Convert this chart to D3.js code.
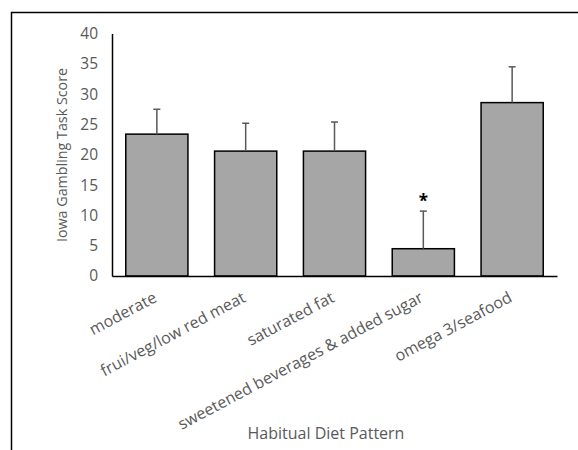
<!DOCTYPE html>
<html>
<head>
<meta charset="utf-8">
<script src="https://cdn.jsdelivr.net/npm/d3@7"></script>
<style>
  html, body { margin: 0; padding: 0; background: #fff; }
  svg { display: block; }
  text { font-family: "Open Sans", Lato, "DejaVu Sans", sans-serif; }
</style>
</head>
<body>
<svg id="chart" width="578" height="450"></svg>
<script>
// Diet pattern categories and mean Iowa Gambling Task scores with error (upper SE)
const categories = ["moderate", "frui/veg/low red meat", "saturated fat", "sweetened beverages & added sugar", "omega 3/seafood"];
const means = [23.4, 20.6, 20.6, 4.5, 28.6];
const errors = [4.1, 4.6, 4.8, 6.2, 5.9];
const significant = [false, false, false, true, false];
const yTicks = [0, 5, 10, 15, 20, 25, 30, 35, 40];

const svg = d3.select("#chart");
const gray = "#595959";

// Outer frame (top and left edges visible)
svg.append("rect")
  .attr("x", 11.5).attr("y", 12.5)
  .attr("width", 620).attr("height", 500)
  .attr("fill", "none").attr("stroke", "#000").attr("stroke-width", 1.5);

const x = d3.scaleBand().domain(categories).range([112, 557]).paddingInner(0.3).paddingOuter(0.155);
const y = d3.scaleLinear().domain([0, 40]).range([276, 33.5]);

// Y axis: line + labels, no tick marks
const yAxis = d3.axisLeft(y).tickValues(yTicks).tickSize(0).tickPadding(14);
const gy = svg.append("g").attr("transform", "translate(112,0)").call(yAxis);
gy.select(".domain").attr("stroke", "#000").attr("stroke-width", 1.5);
gy.selectAll("text").attr("fill", gray).attr("font-size", 15.5);

// Bars
svg.append("g").selectAll("rect").data(categories).join("rect")
  .attr("x", d => x(d))
  .attr("y", (d, i) => y(means[i]))
  .attr("width", x.bandwidth())
  .attr("height", (d, i) => y(0) - y(means[i]))
  .attr("fill", "#a6a6a6").attr("stroke", "#000").attr("stroke-width", 1.5);

// Error bars (upper only)
const eb = svg.append("g").attr("stroke", gray).attr("stroke-width", 1.5);
categories.forEach((c, i) => {
  const cx = x(c) + x.bandwidth() / 2;
  eb.append("line").attr("x1", cx).attr("x2", cx).attr("y1", y(means[i])).attr("y2", y(means[i] + errors[i]));
  eb.append("line").attr("x1", cx - 3.5).attr("x2", cx + 3.5).attr("y1", y(means[i] + errors[i])).attr("y2", y(means[i] + errors[i]));
});

// Significance markers
categories.forEach((c, i) => {
  if (!significant[i]) return;
  svg.append("text")
    .attr("x", x(c) + x.bandwidth() / 2)
    .attr("y", y(means[i] + errors[i]) - 4)
    .attr("text-anchor", "middle")
    .attr("font-size", 17).attr("font-weight", "bold").attr("fill", "#000")
    .text("*");
});

// X axis baseline
const xAxis = d3.axisBottom(x).tickSize(0).tickFormat("");
const gx = svg.append("g").attr("transform", "translate(0,276)").call(xAxis);
gx.select(".domain").attr("stroke", "#000").attr("stroke-width", 1.5);

// Rotated category labels
svg.append("g").selectAll("text").data(categories).join("text")
  .attr("transform", d => `translate(${x(d) + x.bandwidth() / 2 + 1},${301}) rotate(-28)`)
  .attr("text-anchor", "end")
  .attr("fill", gray).attr("font-size", 16)
  .text(d => d);

// Axis titles
svg.append("text")
  .attr("transform", "translate(67,155) rotate(-90)")
  .attr("text-anchor", "middle")
  .attr("fill", gray).attr("font-size", 14.3)
  .text("Iowa Gambling Task Score");

svg.append("text")
  .attr("x", 326).attr("y", 439)
  .attr("text-anchor", "middle")
  .attr("fill", gray).attr("font-size", 16)
  .text("Habitual Diet Pattern");
</script>
</body>
</html>
